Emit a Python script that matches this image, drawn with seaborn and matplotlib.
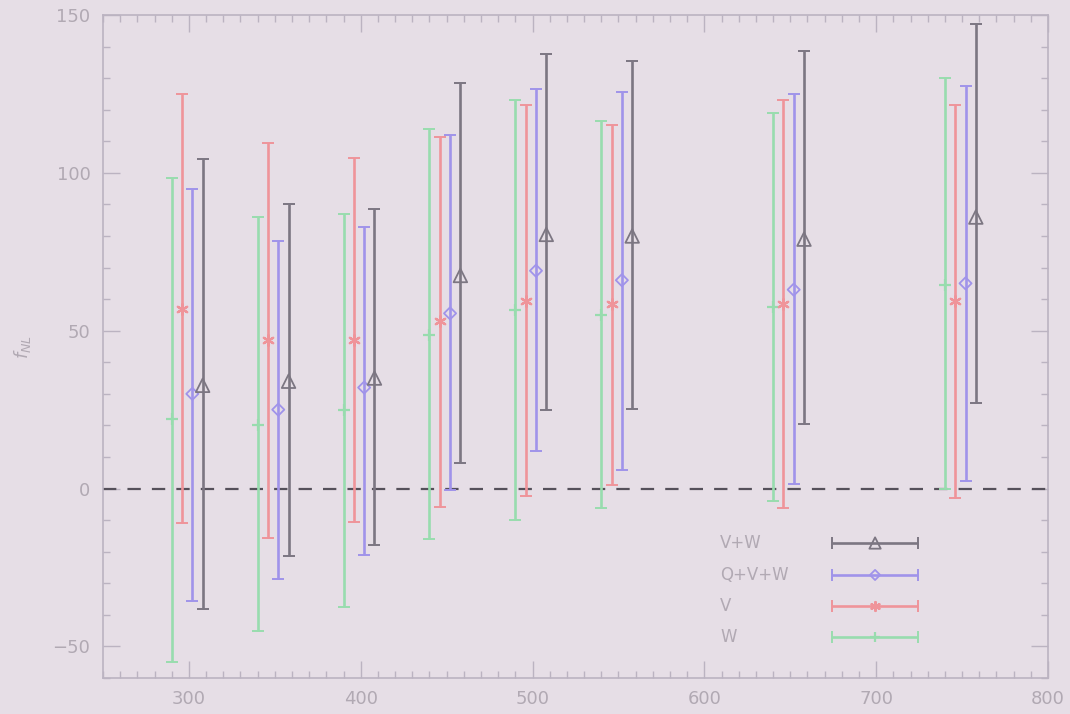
import matplotlib
matplotlib.use("Agg")
import matplotlib.pyplot as plt
import numpy as np
import pandas as pd
import seaborn as sns
from matplotlib.ticker import MultipleLocator

# Frequency positions of each measurement group
positions = [290, 340, 390, 440, 490, 540, 640, 740]

# f_NL estimates with lower / upper bounds per band combination
w_center = [22, 20, 25, 48.5, 56.5, 55, 57.5, 64.5]
w_lower = [-55, -45, -37.5, -16, -10, -6, -4, 0]
w_upper = [98.5, 86, 87, 114, 123, 116.5, 119, 130]

v_center = [57, 47, 47, 53, 59.5, 58.5, 58.5, 59.5]
v_lower = [-11, -15.5, -10.7, -5.7, -2.5, 1, -6, -3]
v_upper = [125, 109.5, 104.8, 111.5, 121.6, 115, 123, 121.6]

qvw_center = [30, 25, 32, 55.5, 69, 66, 63, 65]
qvw_lower = [-35.5, -28.6, -21, -0.6, 12, 6, 1.5, 2.5]
qvw_upper = [95, 78.5, 83, 112, 126.5, 125.5, 125, 127.5]

vw_center = [32.7, 34, 35, 67.5, 80.5, 80, 79, 86]
vw_lower = [-38, -21.5, -18, 8, 25, 25.3, 20.5, 27]
vw_upper = [104.5, 90, 88.5, 128.5, 137.5, 135.5, 138.5, 147]

series_names = ["V+W", "Q+V+W", "V", "W"]

rows = []
for name, c, lo, hi in [
    ("W", w_center, w_lower, w_upper),
    ("V", v_center, v_lower, v_upper),
    ("Q+V+W", qvw_center, qvw_lower, qvw_upper),
    ("V+W", vw_center, vw_lower, vw_upper),
]:
    for p, cc, ll, hh in zip(positions, c, lo, hi):
        rows.append({"series": name, "pos": p, "center": cc, "lower": ll, "upper": hh})
df = pd.DataFrame(rows)

# Styling
bg = "#e6dee6"
text_col = "#b1a9b3"
frame_col = "#bbb3c1"
styles = {
    "W": dict(color="#98dcae", marker="+", size=70, offset=0, open=False),
    "V": dict(color="#ef949a", marker=(6, 2, 0), size=60, offset=6, open=False),
    "Q+V+W": dict(color="#a093ea", marker="D", size=38, offset=12, open=True),
    "V+W": dict(color="#7c7682", marker="^", size=95, offset=18, open=True),
}

sns.set_style("ticks")
plt.rcParams["font.family"] = ["DejaVu Sans"]

fig = plt.figure(figsize=(10.7, 7.14), dpi=100, facecolor=bg)
ax = fig.add_axes([103 / 1070, 1 - 678 / 714, 945 / 1070, 663 / 714])
ax.set_facecolor(bg)

# zero reference line
ax.axhline(0, color="#55505a", lw=1.6, ls=(0, (6, 5)), zorder=1)

for name in ["W", "V", "Q+V+W", "V+W"]:
    st = styles[name]
    sub = df[df["series"] == name]
    x = sub["pos"].to_numpy() + st["offset"]
    yc = sub["center"].to_numpy()
    yerr = np.vstack([yc - sub["lower"].to_numpy(), sub["upper"].to_numpy() - yc])
    ax.errorbar(x, yc, yerr=yerr, fmt="none", ecolor=st["color"],
                elinewidth=1.9, capsize=4, capthick=1.4, zorder=2)
    if st["open"]:
        sns.scatterplot(x=x, y=yc, marker=st["marker"], s=st["size"],
                        facecolor="none", edgecolor=st["color"], linewidth=1.3,
                        ax=ax, zorder=3)
    else:
        sns.scatterplot(x=x, y=yc, marker=st["marker"], s=st["size"],
                        color=st["color"], linewidth=1.6, ax=ax, zorder=3)

# Legend: labels left, horizontal samples right
leg_y = [0.2036, 0.1554, 0.1086, 0.0618]
for name, yy in zip(series_names, leg_y):
    st = styles[name]
    ax.text(0.653, yy, name, transform=ax.transAxes, color=text_col,
            fontsize=12, va="center", ha="left")
    ax.errorbar([0.817], [yy], xerr=[0.0455], transform=ax.transAxes,
                fmt="none", ecolor=st["color"], elinewidth=1.9, capsize=4,
                capthick=1.4, clip_on=False)
    if st["open"]:
        ax.scatter([0.817], [yy], marker=st["marker"], s=st["size"] * 0.7,
                   facecolor="none", edgecolor=st["color"], linewidth=1.3,
                   transform=ax.transAxes, clip_on=False, zorder=4)
    else:
        ax.scatter([0.817], [yy], marker=st["marker"], s=st["size"] * 0.7,
                   color=st["color"], linewidth=1.6,
                   transform=ax.transAxes, clip_on=False, zorder=4)

ax.set_xlim(250, 800)
ax.set_ylim(-60, 150)
ax.xaxis.set_major_locator(MultipleLocator(100))
ax.xaxis.set_minor_locator(MultipleLocator(10))
ax.yaxis.set_major_locator(MultipleLocator(50))
ax.yaxis.set_minor_locator(MultipleLocator(10))
ax.tick_params(which="both", direction="in", top=True, right=True,
               color=frame_col, labelcolor=text_col, labelsize=13, width=1)
ax.tick_params(which="major", length=12, pad=9)
ax.tick_params(which="minor", length=5)
for s in ax.spines.values():
    s.set_color(frame_col)
    s.set_linewidth(1.2)

ax.set_xlabel("")
ax.set_ylabel(r"$f_{NL}$", color=text_col, fontsize=13, labelpad=14)

fig.savefig("out.png", dpi=100, facecolor=bg)
